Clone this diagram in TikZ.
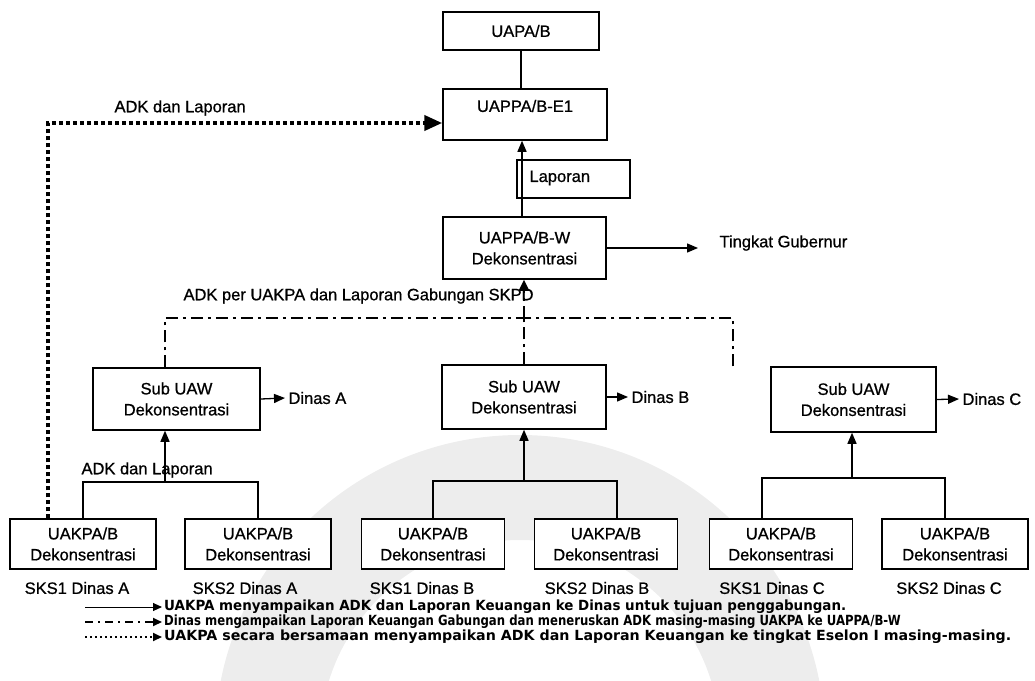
\documentclass[tikz,border=0pt]{standalone}
\usepackage{fontspec}
\setmainfont{Liberation Sans}[FakeBold=0.8]
\newfontfamily\legfont{DejaVu Sans}
\usetikzlibrary{arrows.meta}
\begin{document}
\begin{tikzpicture}[x=1pt,y=-1pt,
  every node/.style={font=\fontsize{16.5}{21}\selectfont},
  box/.style={draw, line width=1.5pt, inner sep=0pt, align=center, fill=white},
  tline/.style={line width=1.3pt},
  tarrow/.style={line width=1.3pt, -{Triangle[length=11pt,width=9pt]}},
  dd/.style={line width=2.5pt, dash pattern=on 12pt off 5pt on 3pt off 5pt},
  hd/.style={line width=4pt, dash pattern=on 4pt off 3pt},
  legtext/.style={anchor=west, inner sep=2pt, font=\legfont\bfseries\fontsize{14}{15}\selectfont},
  bigtip/.style={-{Triangle[length=18pt,width=15pt]}},
  midtip/.style={-{Triangle[length=11pt,width=10pt]}}
]
\useasboundingbox (0,0) rectangle (1035,680);
\clip (0,0) rectangle (1035,680);
% watermark
\fill[gray!14, even odd rule] (520,740) circle[radius=305] (520,740) circle[radius=200];

% top boxes
\node[box, minimum width=156pt, minimum height=38pt] (uapa) at (521,31) {UAPA/B};
\node[box, minimum width=164pt, minimum height=51pt] (e1) at (525,114.5) {};
\node (e1t) at (525,106) {UAPPA/B-E1};
\node[box, minimum width=113pt, minimum height=38pt] (lap) at (573.5,179) {};
\node[anchor=west] (lapt) at (526,178) {Laporan};
\node[box, minimum width=163pt, minimum height=62pt] (uw) at (524.5,248) {UAPPA/B-W\\Dekonsentrasi};
\node[anchor=west] (gub) at (716,243) {Tingkat Gubernur};

% sub UAW
\node[box, minimum width=167pt, minimum height=62pt] (sa) at (176.5,399) {Sub UAW\\Dekonsentrasi};
\node[box, minimum width=164pt, minimum height=64pt] (sb) at (524,397) {Sub UAW\\Dekonsentrasi};
\node[box, minimum width=165pt, minimum height=65pt] (sc) at (853.5,399.5) {Sub UAW\\Dekonsentrasi};
\node[anchor=west] (da) at (285,398) {Dinas A};
\node[anchor=west] (db) at (628,397) {Dinas B};
\node[anchor=west] (dc) at (959,399) {Dinas C};

% bottom boxes
\node[box, minimum width=146pt, minimum height=50pt] (a1) at (83,544) {UAKPA/B\\Dekonsentrasi};
\node[box, minimum width=146pt, minimum height=50pt] (a2) at (258,544) {UAKPA/B\\Dekonsentrasi};
\node[box, minimum width=143pt, minimum height=50pt] (b1) at (433,544) {UAKPA/B\\Dekonsentrasi};
\node[box, minimum width=143pt, minimum height=50pt] (b2) at (606,544) {UAKPA/B\\Dekonsentrasi};
\node[box, minimum width=143pt, minimum height=50pt] (c1) at (781,544) {UAKPA/B\\Dekonsentrasi};
\node[box, minimum width=146pt, minimum height=50pt] (c2) at (955,544) {UAKPA/B\\Dekonsentrasi};
\node (a1l) at (77,588) {SKS1 Dinas A};
\node (a2l) at (245,588) {SKS2 Dinas A};
\node (b1l) at (422,588) {SKS1 Dinas B};
\node (b2l) at (597,588) {SKS2 Dinas B};
\node (c1l) at (772,588) {SKS1 Dinas C};
\node (c2l) at (949,588) {SKS2 Dinas C};

% labels
\node[anchor=west] (lb1) at (111,108) {ADK dan Laporan};
\node[anchor=west] (lb2) at (180,296) {ADK per UAKPA dan Laporan Gabungan SKPD};
\node[anchor=west] (lb3) at (78,470) {ADK dan Laporan};

% top connectors
\draw[tline] (uapa.south) -- (uapa.south |- e1.north);
\draw[tarrow] ([xshift=-2.5pt]uw.north) -- ([xshift=-2.5pt]uw.north |- e1.south);
\draw[tarrow] (uw.east) -- ([xshift=-18pt]gub.west |- uw.east);
\draw[tarrow] (sa.east) -- (da.west);
\draw[tarrow] (sb.east) -- (db.west);
\draw[tarrow] (sc.east) -- (dc.west);

% dash-dot bus
\coordinate (busM) at (524,318);
\draw[dd] ([xshift=-11.5pt]sa.north) |- (busM);
\draw[dd] ([xshift=-120.5pt]sc.north) |- (busM);
\draw[dd] (sb.north) -- (sb.north |- busM);
\draw[dd, midtip] (busM) -- (busM |- uw.south);

% heavy dotted
\draw[hd, bigtip] ([xshift=-35pt]a1.north) |- ([yshift=-8.5pt]e1.west);

% thin connectors
\coordinate (ha) at (165,482);
\draw[tline] (a1.north) |- (a2.north |- ha) -- (a2.north);
\draw[tarrow] (ha) -- (ha |- sa.south);
\coordinate (hb) at (524,481);
\draw[tline] (b1.north) |- ([xshift=11pt]b2.north |- hb) -- ([xshift=11pt]b2.north);
\draw[tarrow] (hb) -- (hb |- sb.south);
\coordinate (hc) at (852,478);
\draw[tline] ([xshift=-19pt]c1.north) |- ([xshift=-10pt]c2.north |- hc) -- ([xshift=-10pt]c2.north);
\draw[tarrow] (hc) -- (hc |- sc.south);

% legend
\node[legtext] (g1) at (162,607) {\scalebox{0.96}[1]{UAKPA menyampaikan ADK dan Laporan Keuangan ke Dinas untuk tujuan penggabungan.}};
\node[legtext] (g2) at (162,622) {\scalebox{0.835}[1]{Dinas mengampaikan Laporan Keuangan Gabungan dan meneruskan ADK masing-masing UAKPA ke UAPPA/B-W}};
\node[legtext] (g3) at (162,637) {\scalebox{1.015}[1]{UAKPA secara bersamaan menyampaikan ADK dan Laporan Keuangan ke tingkat Eselon I masing-masing.}};
\coordinate (g1s) at (85,607);
\coordinate (g2s) at (85,622);
\coordinate (g3s) at (85,637);
\draw[line width=1pt, -{Triangle[length=9pt,width=8pt]}] (g1s) -- (g1.west);
\draw[line width=2pt, dash pattern=on 8pt off 5pt on 2pt off 5pt, -{Triangle[length=9pt,width=8pt]}] (g2s) -- (g2.west);
\draw[line width=2pt, dash pattern=on 2pt off 3pt, -{Triangle[length=9pt,width=8pt]}] (g3s) -- (g3.west);
\end{tikzpicture}
\end{document}
